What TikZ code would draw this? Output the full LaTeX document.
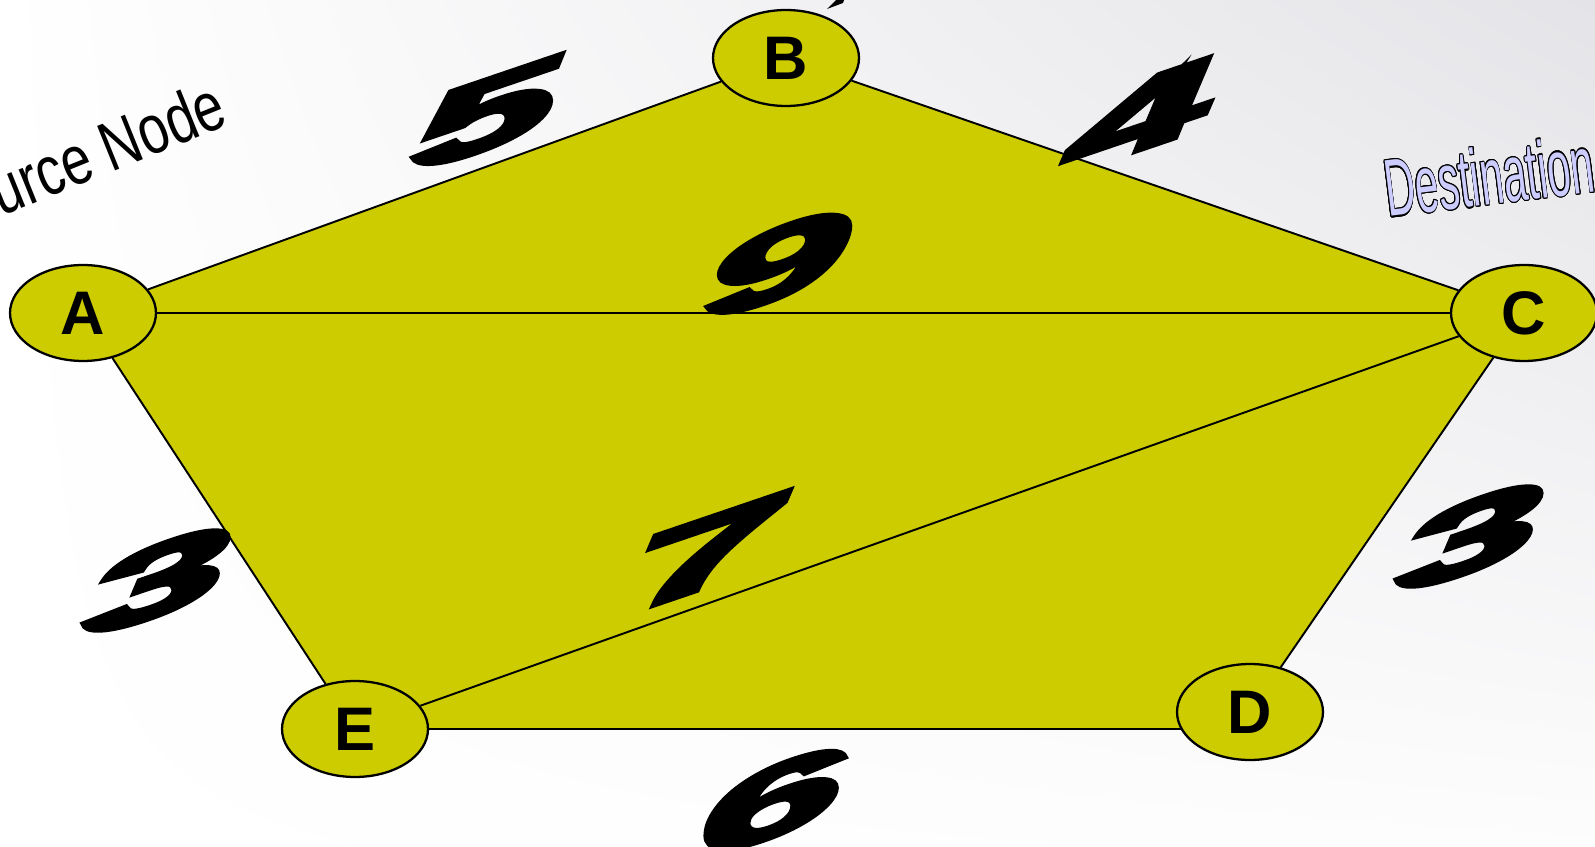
\documentclass[tikz,border=0pt]{standalone}
\usepackage{fontspec}
\setmainfont{Liberation Sans}
\newfontfamily\wtfont[FakeBold=5]{Liberation Sans Bold Italic}
\usepackage[copies]{contour}
\usetikzlibrary{shapes.geometric,backgrounds,shadings}
\definecolor{nodefill}{HTML}{CCCC00}
\definecolor{lav}{HTML}{CCCCFF}
\definecolor{bggray}{HTML}{E4E4E8}
\begin{document}
\begin{tikzpicture}[x=0.02cm,y=-0.02cm,
  vert/.style={ellipse, draw=black, line width=1.3pt, fill=nodefill,
    minimum width=2.92cm, minimum height=1.92cm, inner sep=0pt,
    font=\fontsize{35}{40}\selectfont\bfseries},
  edge/.style={draw=black, line width=1.1pt},
  wt/.style={font=\fontsize{57}{62}\wtfont,
    inner sep=0pt, yslant=0.34, xscale=2.55}]
\useasboundingbox (0,0) rectangle (1595,847);
\clip (0,0) rectangle (1595,847);
% nodes
\node[vert] (A) at (83,313) {A};
\node[vert] (B) at (786,58) {B};
\node[vert] (C) at (1524,313) {C};
\node[vert] (D) at (1250,712) {D};
\node[vert] (E) at (355,729) {E};
\coordinate (Dv) at (D |- E);
\begin{scope}[on background layer]
  \shade[upper left=white, lower left=white, upper right=bggray,
    lower right=white!92!bggray] (0,0) rectangle (1595,847);
  \fill[nodefill] (A.center) -- (B.center) -- (C.center) -- (D.center) -- (Dv) -- (E.center) -- cycle;
  \draw[edge] (A) -- (B);
  \draw[edge] (B) -- (C);
  \draw[edge] (A) -- (C);
  \draw[edge] (C) -- (D);
  \draw[edge] (E) -- (Dv);
  \draw[edge] (E) -- (A);
  \draw[edge] (C) -- (E);
\end{scope}
% weights
\node[wt] (w5) at (485,115) {5};
\node[wt] (w4) at (1141,115) {4};
\node[wt] (w9) at (776,264) {9};
\node[wt] (w3a) at (156,581) {3};
\node[wt] (w3b) at (1469,537) {3};
\node[wt] (w7) at (706,553) {7};
\node[wt] (w6) at (769,803) {6};
% labels
\node[font=\fontsize{30.5}{34}\selectfont, rotate=22, yscale=1.3, anchor=base east, inner sep=0pt]
  (src) at (231,124) {Source Node};
\node[font=\fontsize{46}{50}\selectfont, rotate=7, xscale=0.52, anchor=base west, inner sep=0pt]
  (dst) at (1388,217) {\contourlength{0.7pt}\contour{black}{\textcolor{lav}{Destination Node}}};
\fill (827,9) -- (836,0) -- (844,0) -- (843,3) -- cycle;
\end{tikzpicture}
\end{document}
